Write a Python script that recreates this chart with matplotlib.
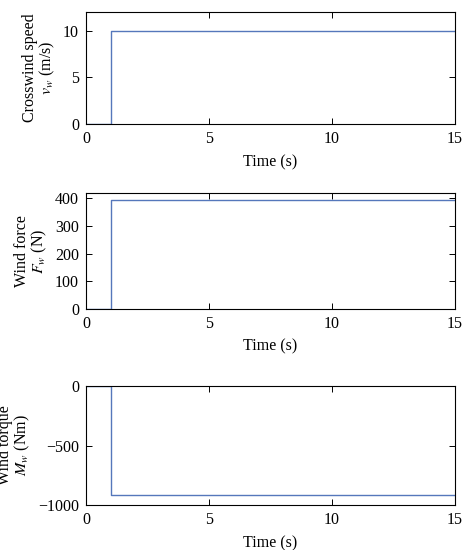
import numpy as np
import matplotlib.pyplot as plt

plt.rcParams['font.family'] = ['Liberation Serif', 'DejaVu Serif']
plt.rcParams['mathtext.fontset'] = 'stix'
plt.rcParams['font.size'] = 11.5

# step input data: zero until t = 1 s, then constant
time = [0, 1, 1, 15]
wind_speed = [0, 0, 10, 10]
wind_force = [0, 0, 395, 395]
wind_torque = [0, 0, -916, -916]

panels = [
    (wind_speed, 'Crosswind speed\n$v_w$ (m/s)', (0, 12), [0, 5, 10]),
    (wind_force, 'Wind force\n$F_w$ (N)', (0, 420), [0, 100, 200, 300, 400]),
    (wind_torque, 'Wind torque\n$M_w$ (Nm)', (-1000, 0), [-1000, -500, 0]),
]
boxes = [
    [0.1845, 0.7745, 0.792, 0.2036],
    [0.1845, 0.4382, 0.792, 0.2110],
    [0.1845, 0.0818, 0.792, 0.2164],
]

fig = plt.figure(figsize=(4.66, 5.5), dpi=100)
for (vals, label, ylim, yticks), box in zip(panels, boxes):
    ax = fig.add_axes(box)
    ax.plot(time, vals, color='#5577bb', lw=1.0)
    ax.set_xlim(0, 15)
    ax.set_ylim(*ylim)
    ax.set_xticks([0, 5, 10, 15])
    ax.set_yticks(yticks)
    ax.set_xlabel('Time (s)', labelpad=5)
    ax.set_ylabel(label, linespacing=1.0, labelpad=4)
    ax.tick_params(direction='in', top=True, right=True, length=4, width=0.7, pad=5)
    for s in ax.spines.values():
        s.set_linewidth(0.8)

fig.savefig('out.png', dpi=100)
